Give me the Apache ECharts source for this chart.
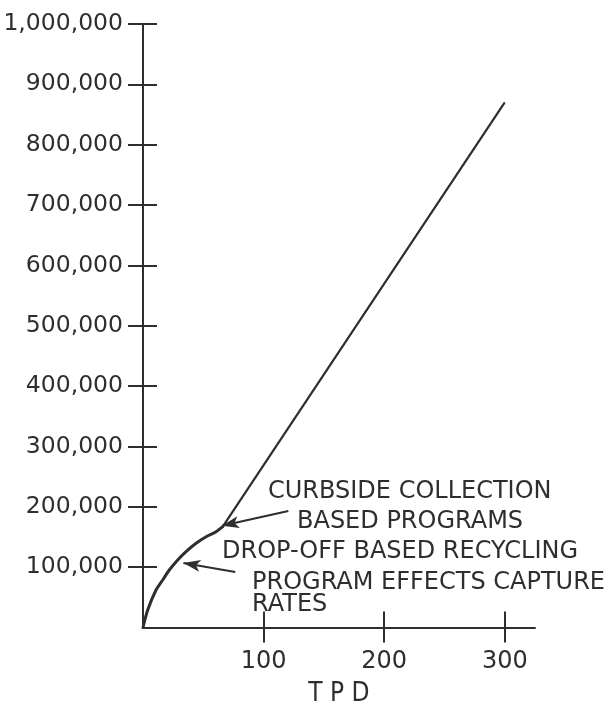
<!DOCTYPE html>
<html>
<head>
<meta charset="utf-8">
<script src="https://cdn.jsdelivr.net/npm/echarts@6/dist/echarts.min.js"></script>
<style>
html,body{margin:0;padding:0;background:#fff;overflow:hidden;}
#c{width:611px;height:701px;}
</style>
</head>
<body>
<div id="c"></div>
<script>
// ---- data ----
const curveTPD   = [0, 3.9, 10.8, 16.3, 21.8, 28.8, 35.7, 44.0, 52.3, 60.6, 66.1];
const curveValue = [0, 29000, 62100, 78700, 95300, 111800, 125600, 139500, 150500, 158700, 167000];
const lineTPD    = [66.1, 299.5];
const lineValue  = [167000, 869000];
const xTicks = [100, 200, 300];
const yTicks = [100000, 200000, 300000, 400000, 500000, 600000, 700000, 800000, 900000, 1000000];
const arrowCurbside = [[120.5, 192900], [65.5, 168500]];
const arrowDropoff  = [[76.5, 91900], [33.5, 107000]];

const INK = '#2e2e2e';
const FONT = 'DejaVu Sans';

const curveData = curveTPD.map((x, i) => [x, curveValue[i]]);
const lineData = lineTPD.map((x, i) => [x, lineValue[i]]);

const fmt = v => v.toLocaleString('en-US');

const chart = echarts.init(document.getElementById('c'), null, {renderer: 'canvas'});

const baseX = {
  type: 'value', min: 0, max: 325, position: 'bottom', offset: 0,
  splitLine: {show: false}
};
const baseY = {
  type: 'value', min: 0, max: 1000000, position: 'left', offset: 0,
  splitLine: {show: false}
};

chart.setOption({
  animation: false,
  backgroundColor: '#fff',
  grid: {left: 143, top: 24, right: 76, bottom: 73.5, containLabel: false, outerBoundsMode: 'none'},
  xAxis: [
    Object.assign({}, baseX, {
      axisLine: {show: true, lineStyle: {color: INK, width: 2}},
      axisTick: {show: true, inside: false, length: 15, customValues: xTicks, lineStyle: {color: INK, width: 2}},
      axisLabel: {show: true, customValues: xTicks, margin: 22, color: INK, fontFamily: FONT, fontSize: 24},
      name: 'T P D', nameLocation: 'middle', nameGap: 54,
      nameTextStyle: {color: INK, fontFamily: '"Liberation Sans Narrow", "DejaVu Sans Condensed", "DejaVu Sans"', fontSize: 26}
    }),
    Object.assign({}, baseX, {
      axisLine: {show: false},
      axisTick: {show: true, inside: true, length: 16, customValues: xTicks, lineStyle: {color: INK, width: 2}},
      axisLabel: {show: false}
    })
  ],
  yAxis: [
    Object.assign({}, baseY, {
      axisLine: {show: true, lineStyle: {color: INK, width: 2}},
      axisTick: {show: true, inside: false, length: 15, customValues: yTicks, lineStyle: {color: INK, width: 2}},
      axisLabel: {show: true, customValues: yTicks, margin: 20, color: INK, fontFamily: FONT, fontSize: 23.5,
                  formatter: v => fmt(v)}
    }),
    Object.assign({}, baseY, {
      axisLine: {show: false},
      axisTick: {show: true, inside: true, length: 14, customValues: yTicks, lineStyle: {color: INK, width: 2}},
      axisLabel: {show: false}
    })
  ],
  series: [
    {
      type: 'line', xAxisIndex: 0, yAxisIndex: 0,
      data: curveData, smooth: 0.3, showSymbol: false,
      lineStyle: {color: INK, width: 3, cap: 'round'},
      markLine: {
        silent: true, animation: false,
        symbol: ['none', 'arrow'], symbolSize: [9, 17],
        label: {show: false},
        lineStyle: {color: INK, width: 2, type: 'solid'},
        data: [
          [{coord: arrowCurbside[0]}, {coord: arrowCurbside[1]}],
          [{coord: arrowDropoff[0]}, {coord: arrowDropoff[1]}]
        ]
      }
    },
    {
      type: 'line', xAxisIndex: 0, yAxisIndex: 0,
      data: lineData, showSymbol: false,
      lineStyle: {color: INK, width: 2.2, cap: 'round'}
    }
  ],
  graphic: [
    {type: 'text', x: 268, y: 492, style: {text: 'CURBSIDE COLLECTION', fill: INK, font: '24px "DejaVu Sans"', verticalAlign: 'middle'}},
    {type: 'text', x: 297, y: 522, style: {text: 'BASED PROGRAMS', fill: INK, font: '24px "DejaVu Sans"', verticalAlign: 'middle'}},
    {type: 'text', x: 222, y: 552, style: {text: 'DROP-OFF BASED RECYCLING', fill: INK, font: '24px "DejaVu Sans"', verticalAlign: 'middle'}},
    {type: 'text', x: 252, y: 583, style: {text: 'PROGRAM EFFECTS CAPTURE', fill: INK, font: '24px "DejaVu Sans"', verticalAlign: 'middle'}},
    {type: 'text', x: 252, y: 605, style: {text: 'RATES', fill: INK, font: '24px "DejaVu Sans"', verticalAlign: 'middle'}}
  ]
});
</script>
</body>
</html>
